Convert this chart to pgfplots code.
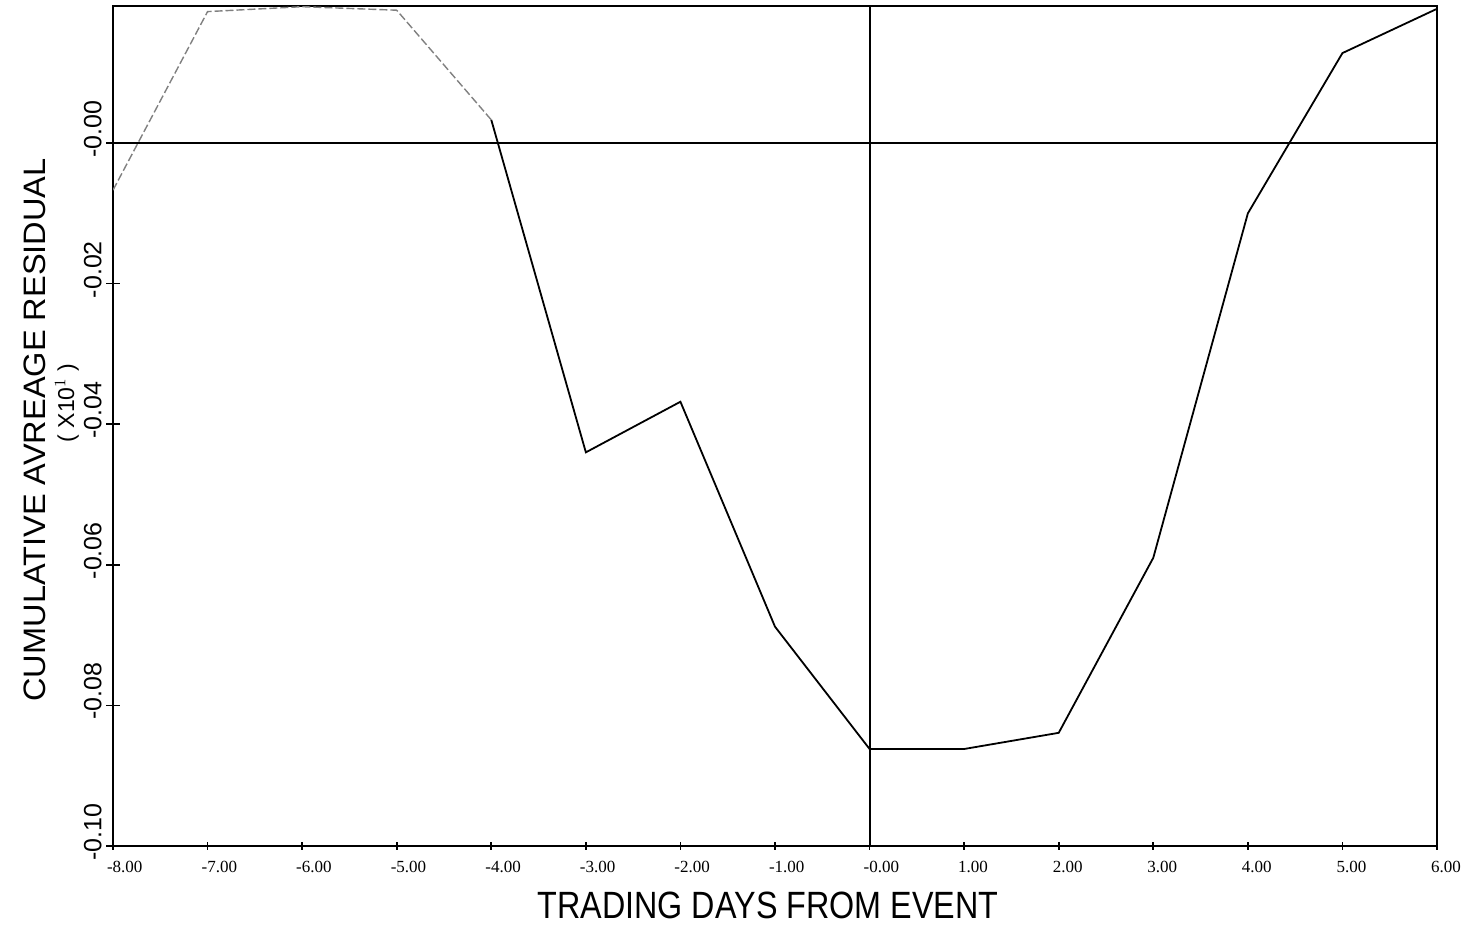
\documentclass[border=0pt]{standalone}
\usepackage{pgfplots}
\pgfplotsset{compat=1.18}
\usetikzlibrary{calc}
\usepackage{fontspec}
\setmainfont{Liberation Sans}
\newfontfamily\serifdigits{Liberation Serif}
\begin{document}
\begin{tikzpicture}
\begin{axis}[
  name=ax,
  width=662pt, height=420pt, scale only axis,
  xmin=-8, xmax=6, ymin=-0.1, ymax=0.0195,
  xtick pos=bottom, ytick pos=left,
  tick align=center,
  xtick={-8,-7,-6,-5,-4,-3,-2,-1,0,1,2,3,4,5,6},
  xticklabels={-8.00,-7.00,-6.00,-5.00,-4.00,-3.00,-2.00,-1.00,-0.00,1.00,2.00,3.00,4.00,5.00,6.00},
  ytick={-0.1,-0.08,-0.06,-0.04,-0.02,0},
  yticklabels={-0.10,-0.08,-0.06,-0.04,-0.02,-0.00},
  xtick style={/pgfplots/major tick length=4pt, line width=0.8pt, black},
  ytick style={/pgfplots/major tick length=7pt, line width=0.8pt, black},
  xticklabel style={font=\serifdigits\fontsize{8.5}{10}\selectfont, anchor=north west, xshift=-6.5pt, yshift=-2pt},
  yticklabel style={font=\fontsize{12.5}{14}\selectfont, yshift=7pt, rotate=90, anchor=south},
  axis line style={line width=1pt},
]
\addplot[black!50, line width=0.7pt, dash pattern=on 4pt off 1.5pt] coordinates {
  (-8,-0.0067) (-7,0.0187) (-6,0.0194) (-5,0.0189) (-4,0.0033)
};
\addplot[black, line width=0.9pt] coordinates {
  (-4,0.0033) (-3,-0.0440) (-2,-0.0368) (-1,-0.0688) (0,-0.0862)
  (1,-0.0862) (2,-0.0839) (3,-0.0590) (4,-0.0100) (5,0.0128) (6,0.0191)
};
\addplot[black, line width=1pt] coordinates {(-8,0) (6,0)};
\addplot[black, line width=1pt] coordinates {(0,-0.1) (0,0.0195)};
\end{axis}
\node[rotate=90, inner sep=0pt] at ([xshift=-39pt, yshift=-2pt]$(ax.south west)!0.5!(ax.north west)$)
  {\scalebox{1.05}[1]{\fontsize{15.5}{18}\selectfont CUMULATIVE AVREAGE RESIDUAL}};
\node[rotate=90, inner sep=0pt] at ([xshift=-23pt, yshift=11.5pt]$(ax.south west)!0.5!(ax.north west)$)
  {\fontsize{11.5}{13}\selectfont ( X10$^{1}$ )};
\node[inner sep=0pt] at ([xshift=-3.5pt, yshift=-29.5pt]$(ax.south west)!0.5!(ax.south east)$)
  {\scalebox{0.85}[1]{\fontsize{19}{22}\selectfont TRADING DAYS FROM EVENT}};
\pgfresetboundingbox
\path ([shift={(-56.5pt,-39.5pt)}]ax.south west) rectangle ([shift={(12pt,3pt)}]ax.north east);
\end{tikzpicture}
\end{document}
